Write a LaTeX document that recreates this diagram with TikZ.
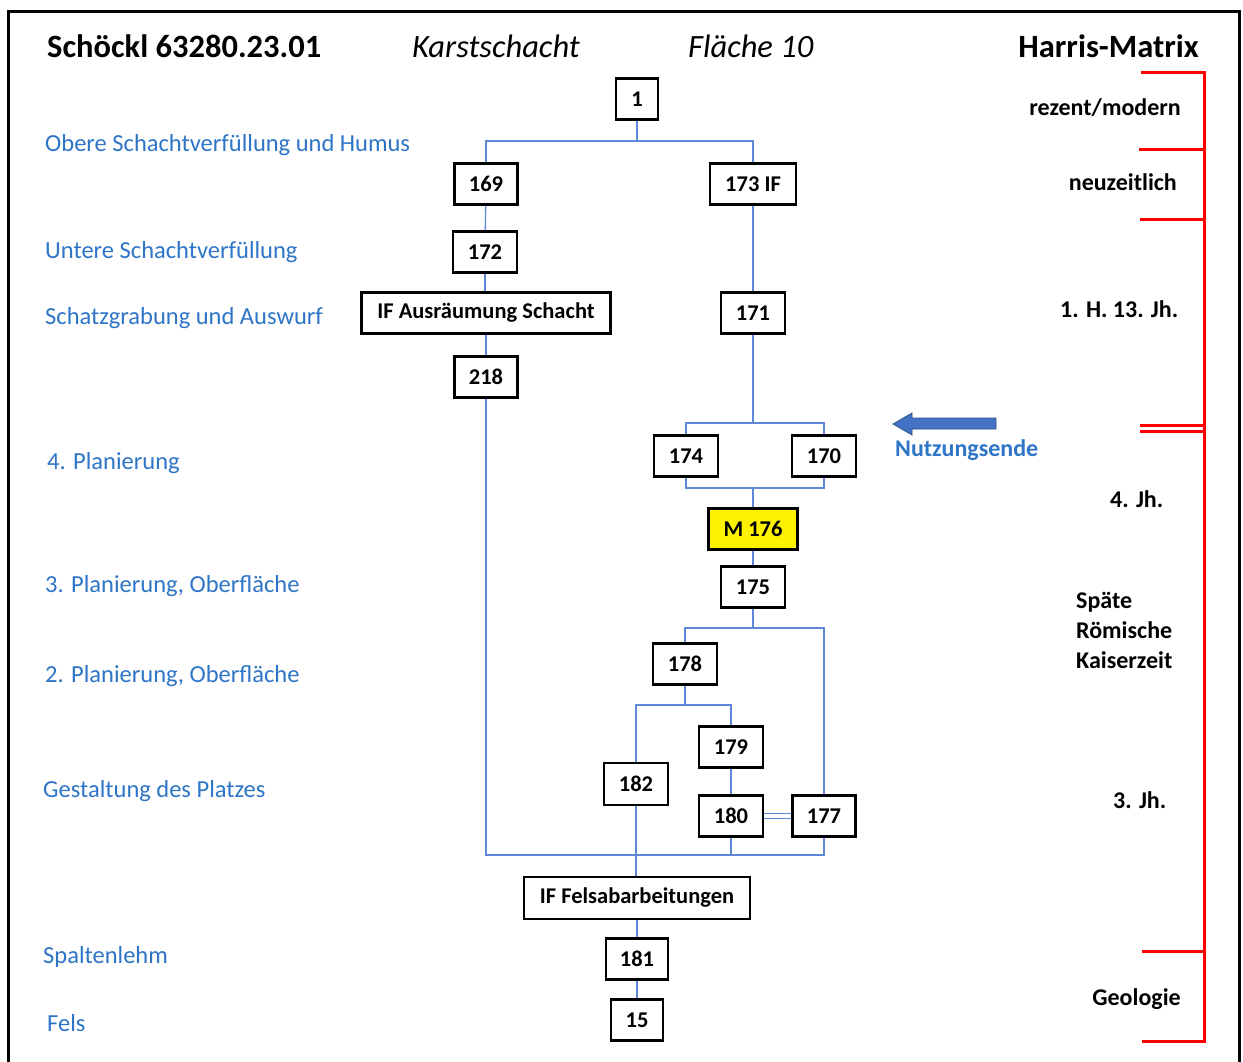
\documentclass[tikz,border=0pt]{standalone}
\usepackage{fontspec}
\setmainfont{Carlito}
\definecolor{lblblue}{RGB}{46,117,200}
\definecolor{connblue}{RGB}{95,135,215}
\definecolor{arrfill}{RGB}{68,114,196}
\definecolor{arrdraw}{RGB}{47,82,143}
\begin{document}
\begin{tikzpicture}[x=1pt,y=-1pt,
  hbox/.style={draw=black,line width=2.8pt,fill=white,minimum height=41pt,inner sep=0pt,
    font=\fontsize{22.5}{27}\selectfont\bfseries},
  conn/.style={draw=connblue,line width=1.3pt},
  lbl/.style={anchor=base west,inner sep=0pt,text=lblblue,font=\fontsize{24.5}{29}\selectfont},
  rlbl/.style={inner sep=0pt,font=\fontsize{24}{30}\selectfont\bfseries},
  hdr/.style={anchor=base west,inner sep=0pt,font=\fontsize{32.5}{38}\selectfont},
  redl/.style={draw=red,line width=3pt}]
\clip (0,0) rectangle (1243,1062);
\fill[white] (0,0) rectangle (1243,1062);
% frame
\draw[line width=3pt] (8.5,1075) -- (8.5,11.5) -- (1239.5,11.5) -- (1239.5,1075);

% headers
\node[hdr,font=\fontsize{32.5}{38}\selectfont\bfseries] (h1) at (47,57.5) {Schöckl 63280.23.01};
\node[hdr,font=\fontsize{32.5}{38}\selectfont\itshape] (h2) at (412,57.5) {Karstschacht};
\node[hdr,font=\fontsize{32.5}{38}\selectfont\itshape] (h3) at (688,57.5) {Fläche 10};
\node[hdr,anchor=base east,font=\fontsize{32.5}{38}\selectfont\bfseries] (h4) at (1199,57.5) {Harris-Matrix};

% left labels
\node[lbl] (l1) at (45,152) {Obere Schachtverfüllung und Humus};
\node[lbl] (l2) at (45,258) {Untere Schachtverfüllung};
\node[lbl] (l3) at (45,324) {Schatzgrabung und Auswurf};
\node[lbl] (l4) at (47,469) {4. Planierung};
\node[lbl] (l5) at (45,592) {3. Planierung, Oberfläche};
\node[lbl] (l6) at (45,682) {2. Planierung, Oberfläche};
\node[lbl] (l7) at (43,797) {Gestaltung des Platzes};
\node[lbl] (l8) at (43,963) {Spaltenlehm};
\node[lbl] (l9) at (47,1031) {Fels};

% boxes
\node[hbox,minimum width=42pt] (n1) at (637,99) {1};
\node[hbox,minimum width=63pt] (n169) at (486,184) {169};
\node[hbox,minimum width=86pt] (n173) at (753,184) {173 IF};
\node[hbox,minimum width=64pt] (n172) at (485,252) {172};
\node[hbox,minimum width=249pt] (nifa) at (486,313) {IF Ausräumung Schacht};
\node[hbox,minimum width=64pt] (n171) at (753,313) {171};
\node[hbox,minimum width=63pt] (n218) at (486,377) {218};
\node[hbox,minimum width=64pt] (n174) at (686,456) {174};
\node[hbox,minimum width=64pt] (n170) at (824,456) {170};
\node[hbox,minimum width=89pt,fill=yellow] (n176) at (753,529) {M 176};
\node[hbox,minimum width=64pt] (n175) at (753,587) {175};
\node[hbox,minimum width=64pt] (n178) at (685,664) {178};
\node[hbox,minimum width=64pt] (n179) at (731,747) {179};
\node[hbox,minimum width=64pt,minimum height=42pt] (n182) at (636,784) {182};
\node[hbox,minimum width=64pt] (n180) at (731,816) {180};
\node[hbox,minimum width=63pt] (n177) at (824,816) {177};
\node[hbox,minimum width=226pt,minimum height=42pt] (nfels) at (637,898) {IF Felsabarbeitungen};
\node[hbox,minimum width=62pt] (n181) at (637,959) {181};
\node[hbox,minimum width=52pt] (n15) at (637,1020) {15};

% junction coordinates
\coordinate (j1) at (637,141);
\coordinate (j2) at (753,423);
\coordinate (j3) at (753,488);
\coordinate (j4) at (753,628);
\coordinate (j5) at (685,705);
\coordinate (base) at (0,855);

% connectors
\draw[conn] (n1.south) -- (j1);
\draw[conn] (n169.north) |- (j1) -| (n173.north);
\draw[conn] (n169) -- (n172);
\draw[conn] (n172) -- (nifa.north -| n172.south);
\draw[conn] (nifa.south) -- (n218.north);
\draw[conn] (n173) -- (n171);
\draw[conn] (n171.south) -- (j2);
\draw[conn] (n174.north) |- (j2) -| (n170.north);
\draw[conn] (n174.south) |- (j3) -| (n170.south);
\draw[conn] (j3) -- (n176.north);
\draw[conn] (n176) -- (n175);
\draw[conn] (n175.south) -- (j4);
\draw[conn] (n178.north) |- (j4) -| (n177.north);
\draw[conn] (n178.south) -- (j5);
\draw[conn] (n182.north) |- (j5) -| (n179.north);
\draw[conn] (n179) -- (n180);
\draw[conn] ([yshift=-2.5pt]n180.east) -- ([yshift=-2.5pt]n177.west);
\draw[conn] ([yshift=2.5pt]n180.east) -- ([yshift=2.5pt]n177.west);
\draw[conn] (n218.south) |- (n177.south |- base) -- (n177.south);
\draw[conn] (n180.south) -- (n180.south |- base);
\draw[conn] (n182.south) -- (nfels.north -| n182.south);
\draw[conn] (nfels) -- (n181);
\draw[conn] (n181) -- (n15);

% Nutzungsende arrow
\draw[fill=arrfill,draw=arrdraw,line width=0.8pt]
  (893,424) -- (912,413) -- (912,418) -- (996,418) -- (996,429) -- (912,429) -- (912,435) -- cycle;
\node[anchor=base west,inner sep=0pt,text=lblblue,font=\fontsize{24}{29}\selectfont\bfseries] (nutz) at (895,456) {Nutzungsende};

% right red bracket
\draw[redl] (1141,73) -- (1204,73) -- (1204,1041) -- (1142,1041);
\draw[redl] (1139,150) -- (1204,150);
\draw[redl] (1140,219) -- (1204,219);
\draw[redl] (1140,425) -- (1204,425);
\draw[redl] (1140,431) -- (1204,431);
\draw[redl] (1142,951) -- (1204,951);

% right labels
\node[rlbl,anchor=base east] (r1) at (1181,116) {rezent/modern};
\node[rlbl,anchor=base east] (r2) at (1177,190) {neuzeitlich};
\node[rlbl,anchor=base west] (r3) at (1060,317) {1. H. 13. Jh.};
\node[rlbl,anchor=base west] (r4) at (1110,507) {4. Jh.};
\node[rlbl,anchor=base west] (r5) at (1076,608) {Späte};
\node[rlbl,anchor=base west] (r6) at (1076,638) {Römische};
\node[rlbl,anchor=base west] (r7) at (1076,668) {Kaiserzeit};
\node[rlbl,anchor=base west] (r8) at (1113,808) {3. Jh.};
\node[rlbl,anchor=base east] (r9) at (1181,1005) {Geologie};
\end{tikzpicture}
\end{document}
